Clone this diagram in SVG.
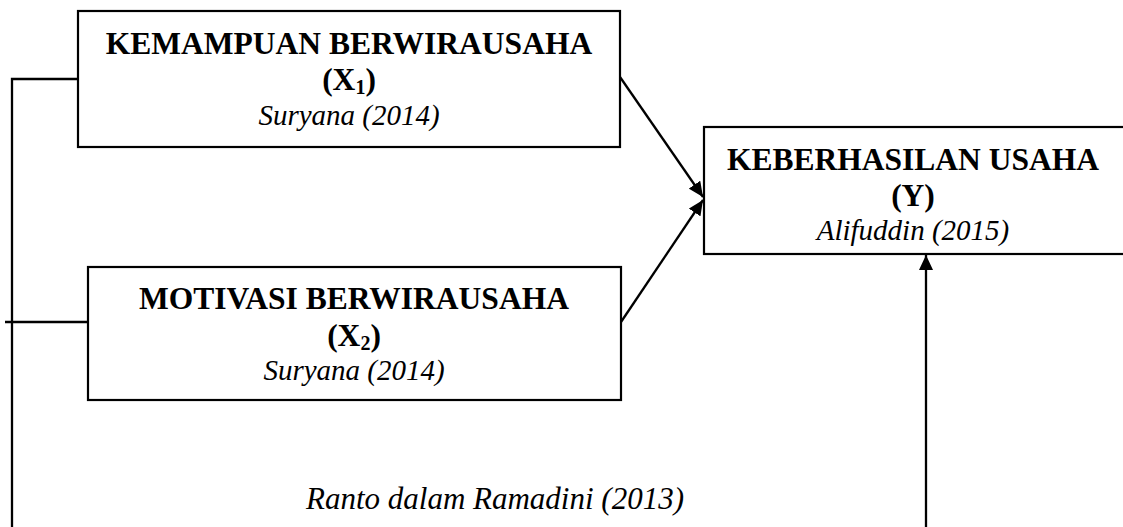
<svg xmlns="http://www.w3.org/2000/svg" width="1123" height="527" viewBox="0 0 1123 527">
<style>
.box{fill:#fff;stroke:#000;stroke-width:2.2}
.b{font-family:"Liberation Serif","Times New Roman",serif;font-weight:bold;font-size:31.5px;fill:#000;text-anchor:middle}
.i{font-family:"Liberation Serif","Times New Roman",serif;font-style:italic;font-size:29px;fill:#000;text-anchor:middle}
.sub{font-size:20px}
.ln{fill:none;stroke:#000;stroke-width:2.3}
</style>
<defs>
<marker id="ah" viewBox="0 0 15 14" refX="15" refY="7" markerWidth="15" markerHeight="14" markerUnits="userSpaceOnUse" orient="auto">
<path d="M0,0 L15,7 L0,14 Z" fill="#000"/>
</marker>
</defs>
<g id="connectors">
<polyline class="ln" points="78,79 12,79 12,527"/>
<line class="ln" x1="5" y1="322" x2="88" y2="322"/>
<line class="ln" x1="620" y1="77" x2="703" y2="197" marker-end="url(#ah)"/>
<line class="ln" x1="621" y1="322" x2="703" y2="200" marker-end="url(#ah)"/>
<line class="ln" x1="926" y1="527" x2="926" y2="255" marker-end="url(#ah)"/>
</g>
<g id="x1">
<rect class="box" x="78" y="11" width="542" height="136"/>
<text class="b" x="349" y="54">KEMAMPUAN BERWIRAUSAHA</text>
<text class="b" x="349" y="90">(X<tspan class="sub" dy="4">1</tspan><tspan dy="-4">)</tspan></text>
<text class="i" x="349" y="125">Suryana (2014)</text>
</g>
<g id="x2">
<rect class="box" x="88" y="267" width="533" height="133"/>
<text class="b" x="354" y="309">MOTIVASI BERWIRAUSAHA</text>
<text class="b" x="354" y="346">(X<tspan class="sub" dy="4">2</tspan><tspan dy="-4">)</tspan></text>
<text class="i" x="354" y="380">Suryana (2014)</text>
</g>
<g id="y">
<rect class="box" x="704" y="127" width="424" height="127"/>
<text class="b" x="913" y="170">KEBERHASILAN USAHA</text>
<text class="b" x="913" y="206">(Y)</text>
<text class="i" x="913" y="240">Alifuddin (2015)</text>
</g>
<g id="note">
<text class="i" x="495" y="509" style="font-size:31px">Ranto dalam Ramadini (2013)</text>
</g>
</svg>
